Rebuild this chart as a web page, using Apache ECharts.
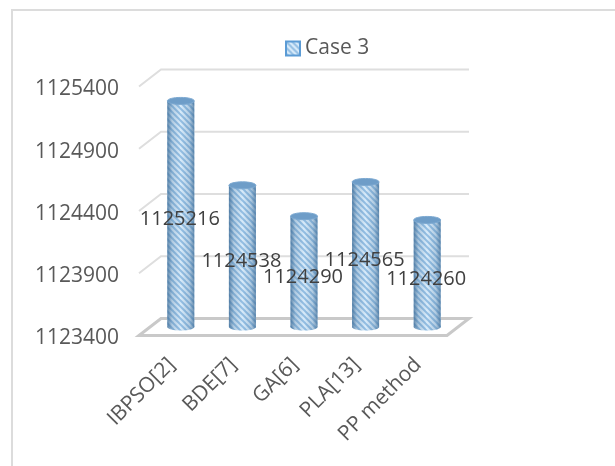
<!DOCTYPE html>
<html>
<head>
<meta charset="utf-8">
<style>
  html, body { margin: 0; padding: 0; background: #fff; }
  #chart { position: absolute; left: 0; top: 0; width: 615px; height: 466px; }
  #frame { position: absolute; left: 11px; top: 9px; width: 620px; height: 480px; border: 2px solid #dcdcdc; }
  body { overflow: hidden; }
</style>
</head>
<body>
<div id="frame"></div>
<div id="chart"></div>
<script src="https://cdn.jsdelivr.net/npm/echarts@6/dist/echarts.min.js"></script>
<script>
const categories = ['IBPSO[2]', 'BDE[7]', 'GA[6]', 'PLA[13]', 'PP method']
const caseValues = [1125216, 1124538, 1124290, 1124565, 1124260]
const yTicks = [1123400, 1123900, 1124400, 1124900, 1125400]
const seriesName = 'Case 3'

// half of the fake 3d depth, floor and wall sit this far from the bars
const DEPTH_X = 11
const DEPTH_Y = 8.5
const BAR_W = 27
const FONT = '"Open Sans", sans-serif'

// diagonal hatch
function makeHatch () {
  const c = document.createElement('canvas')
  c.width = 6
  c.height = 6
  const ctx = c.getContext('2d')
  ctx.fillStyle = '#d8ebfa'
  ctx.fillRect(0, 0, 6, 6)
  ctx.strokeStyle = '#94bfe3'
  ctx.lineWidth = 2
  ;[[0, 0], [-6, 0], [0, -6]].forEach(([dx, dy]) => {
    ctx.beginPath()
    ctx.moveTo(dx, dy)
    ctx.lineTo(dx + 12, dy + 12)
    ctx.stroke()
  })
  return c
}
const hatch = { image: makeHatch(), repeat: 'repeat' }

const edgeShade = new echarts.graphic.LinearGradient(0, 0, 1, 0, [
  { offset: 0, color: 'rgba(62,108,150,0.8)' },
  { offset: 0.18, color: 'rgba(62,108,150,0.25)' },
  { offset: 0.5, color: 'rgba(62,108,150,0)' },
  { offset: 0.82, color: 'rgba(62,108,150,0.25)' },
  { offset: 1, color: 'rgba(62,108,150,0.75)' }
])

// gridlines with their depth stroke, the lowest tick also gets the floor
function renderWall (params, api) {
  const cs = params.coordSys
  const y = api.coord([0, api.value(1)])[1]
  const x0 = cs.x
  const x1 = cs.x + cs.width
  const children = [{
    type: 'polyline',
    shape: { points: [[x0 - DEPTH_X, y + DEPTH_Y], [x0 + DEPTH_X, y - DEPTH_Y], [x1 + DEPTH_X, y - DEPTH_Y]] },
    style: { stroke: '#dedede', lineWidth: 2, fill: null }
  }]
  if (api.value(1) === yTicks[0]) {
    children.push({
      type: 'polygon',
      shape: { points: [[x0 - DEPTH_X, y + DEPTH_Y], [x0 + DEPTH_X, y - DEPTH_Y], [x1 + DEPTH_X, y - DEPTH_Y], [x1 - DEPTH_X, y + DEPTH_Y]] },
      style: { stroke: '#c9c9c9', lineWidth: 3, fill: '#ffffff' }
    })
  }
  return { type: 'group', children }
}

function renderCylinder (params, api) {
  const top = api.coord([api.value(0), api.value(1)])
  const base = api.coord([api.value(0), yTicks[0]])
  const x = top[0] - BAR_W / 2
  const body = { x, y: top[1], width: BAR_W, height: base[1] - top[1] }
  const foot = { cx: top[0], cy: base[1], rx: BAR_W / 2, ry: 3.5 }
  return {
    type: 'group',
    children: [
      { type: 'ellipse', shape: foot, style: { fill: hatch } },
      { type: 'ellipse', shape: foot, style: { fill: edgeShade } },
      { type: 'rect', shape: body, style: { fill: hatch } },
      { type: 'rect', shape: body, style: { fill: edgeShade } },
      { type: 'ellipse', shape: { cx: top[0], cy: top[1], rx: BAR_W / 2, ry: 3.5 }, style: { fill: '#6e9dc8', stroke: '#7da9d1', lineWidth: 1 } }
    ]
  }
}

function renderValueLabel (params, api) {
  const top = api.coord([api.value(0), api.value(1)])
  const base = api.coord([api.value(0), yTicks[0]])
  return {
    type: 'text',
    style: {
      text: String(api.value(1)),
      x: top[0] - 1,
      y: (top[1] + base[1]) / 2 + 5.5,
      align: 'center',
      verticalAlign: 'middle',
      font: '20px ' + FONT,
      fill: '#404040'
    }
  }
}

const chart = echarts.init(document.getElementById('chart'), null, { renderer: 'canvas' })

chart.setOption({
  animation: false,
  backgroundColor: 'transparent',
  legend: {
    data: [seriesName],
    left: 280,
    top: 33,
    icon: 'rect',
    itemWidth: 14,
    itemHeight: 14,
    itemGap: 6,
    textStyle: { fontFamily: FONT, fontSize: 21, color: '#595959' }
  },
  grid: [
    // bars stand in the middle of the depth
    { left: 150, top: 78, width: 308, height: 249 },
    // this one only carries the axis labels, a bit below the front edge
    { left: 141, top: 89.5, width: 308, height: 249 }
  ],
  xAxis: [
    { gridIndex: 0, type: 'category', data: categories, show: false },
    {
      gridIndex: 1,
      type: 'category',
      data: categories,
      axisLine: { show: false },
      axisTick: { show: false },
      axisLabel: { interval: 0, rotate: 45, margin: 23, fontFamily: FONT, fontSize: 21, color: '#595959' }
    }
  ],
  yAxis: [
    { gridIndex: 0, type: 'value', min: yTicks[0], max: yTicks[yTicks.length - 1], show: false, splitLine: { show: false } },
    {
      gridIndex: 1,
      type: 'value',
      min: yTicks[0],
      max: yTicks[yTicks.length - 1],
      axisLine: { show: false },
      axisTick: { show: false },
      splitLine: { show: false },
      axisLabel: {
        customValues: yTicks,
        formatter: v => String(v),
        margin: 22,
        fontFamily: FONT,
        fontSize: 21,
        color: '#595959'
      }
    }
  ],
  series: [
    {
      type: 'custom',
      xAxisIndex: 0,
      yAxisIndex: 0,
      silent: true,
      clip: false,
      z: 1,
      encode: { x: 0, y: 1 },
      renderItem: renderWall,
      data: yTicks.map(v => [0, v])
    },
    {
      name: seriesName,
      type: 'custom',
      xAxisIndex: 0,
      yAxisIndex: 0,
      clip: false,
      z: 2,
      itemStyle: { color: hatch, borderColor: '#5b9bd5', borderWidth: 1 },
      encode: { x: 0, y: 1 },
      renderItem: renderCylinder,
      data: caseValues.map((v, i) => [i, v])
    },
    {
      type: 'custom',
      xAxisIndex: 0,
      yAxisIndex: 0,
      silent: true,
      clip: false,
      z: 3,
      encode: { x: 0, y: 1 },
      renderItem: renderValueLabel,
      data: caseValues.map((v, i) => [i, v])
    }
  ]
})
</script>
</body>
</html>
